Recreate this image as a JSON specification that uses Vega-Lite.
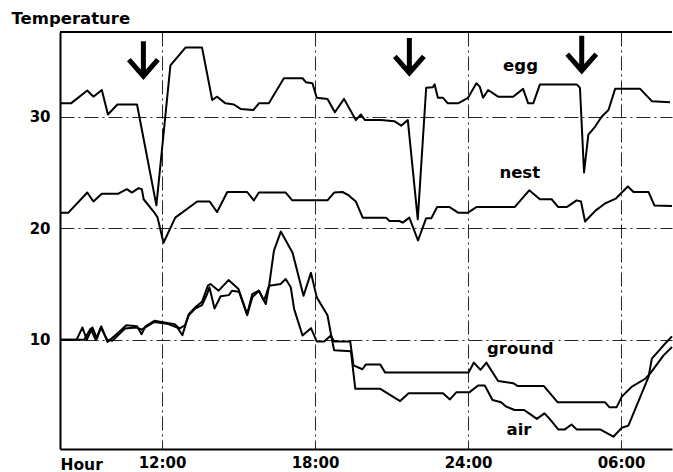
{
  "$schema": "https://vega.github.io/schema/vega-lite/v6.json",
  "width": 612,
  "height": 417,
  "autosize": "none",
  "padding": {"left": 60, "top": 32, "right": 1, "bottom": 23},
  "background": "white",
  "config": {"view": {"stroke": null}, "font": "DejaVu Sans"},
  "datasets": {
    "temps": [
      {"s":"egg","h":8.00,"t":31.2},{"s":"egg","h":8.43,"t":31.2},{"s":"egg","h":9.07,"t":32.35},{"s":"egg","h":9.31,"t":31.8},{"s":"egg","h":9.64,"t":32.4},{"s":"egg","h":9.88,"t":30.2},{"s":"egg","h":10.25,"t":31.1},{"s":"egg","h":11.02,"t":31.1},{"s":"egg","h":11.78,"t":22.05},{"s":"egg","h":12.33,"t":34.6},{"s":"egg","h":12.92,"t":36.2},{"s":"egg","h":13.57,"t":36.2},{"s":"egg","h":13.97,"t":31.5},{"s":"egg","h":14.16,"t":31.8},{"s":"egg","h":14.49,"t":31.2},{"s":"egg","h":14.82,"t":31.1},{"s":"egg","h":15.08,"t":30.7},{"s":"egg","h":15.58,"t":30.6},{"s":"egg","h":15.80,"t":31.2},{"s":"egg","h":16.19,"t":31.2},{"s":"egg","h":16.78,"t":33.45},{"s":"egg","h":17.51,"t":33.45},{"s":"egg","h":17.64,"t":33.1},{"s":"egg","h":17.90,"t":33.0},{"s":"egg","h":18.07,"t":31.7},{"s":"egg","h":18.49,"t":31.6},{"s":"egg","h":18.78,"t":30.4},{"s":"egg","h":19.14,"t":31.6},{"s":"egg","h":19.60,"t":29.7},{"s":"egg","h":19.80,"t":30.2},{"s":"egg","h":19.96,"t":29.7},{"s":"egg","h":20.59,"t":29.7},{"s":"egg","h":21.11,"t":29.6},{"s":"egg","h":21.38,"t":29.2},{"s":"egg","h":21.64,"t":29.7},{"s":"egg","h":22.03,"t":20.8},{"s":"egg","h":22.36,"t":32.6},{"s":"egg","h":22.62,"t":32.65},{"s":"egg","h":22.69,"t":32.9},{"s":"egg","h":22.82,"t":31.7},{"s":"egg","h":23.02,"t":31.7},{"s":"egg","h":23.21,"t":31.2},{"s":"egg","h":23.61,"t":31.2},{"s":"egg","h":24.00,"t":31.7},{"s":"egg","h":24.33,"t":33.0},{"s":"egg","h":24.46,"t":32.7},{"s":"egg","h":24.59,"t":31.7},{"s":"egg","h":24.79,"t":32.4},{"s":"egg","h":25.18,"t":31.8},{"s":"egg","h":25.77,"t":31.8},{"s":"egg","h":26.16,"t":32.5},{"s":"egg","h":26.36,"t":31.2},{"s":"egg","h":26.56,"t":31.2},{"s":"egg","h":26.82,"t":32.9},{"s":"egg","h":28.26,"t":32.9},{"s":"egg","h":28.39,"t":32.6},{"s":"egg","h":28.55,"t":25.0},{"s":"egg","h":28.72,"t":28.4},{"s":"egg","h":28.98,"t":29.1},{"s":"egg","h":29.24,"t":30.0},{"s":"egg","h":29.51,"t":30.6},{"s":"egg","h":29.77,"t":32.5},{"s":"egg","h":30.75,"t":32.5},{"s":"egg","h":31.21,"t":31.4},{"s":"egg","h":31.92,"t":31.3},
      {"s":"nest","h":8.00,"t":21.4},{"s":"nest","h":8.33,"t":21.4},{"s":"nest","h":9.07,"t":23.2},{"s":"nest","h":9.31,"t":22.4},{"s":"nest","h":9.64,"t":23.1},{"s":"nest","h":10.29,"t":23.1},{"s":"nest","h":10.62,"t":23.5},{"s":"nest","h":10.82,"t":23.2},{"s":"nest","h":11.08,"t":23.6},{"s":"nest","h":11.21,"t":23.5},{"s":"nest","h":11.28,"t":22.6},{"s":"nest","h":11.67,"t":21.5},{"s":"nest","h":11.82,"t":21.0},{"s":"nest","h":12.06,"t":18.7},{"s":"nest","h":12.52,"t":20.95},{"s":"nest","h":13.38,"t":22.4},{"s":"nest","h":13.87,"t":22.4},{"s":"nest","h":14.16,"t":21.45},{"s":"nest","h":14.56,"t":23.25},{"s":"nest","h":15.34,"t":23.25},{"s":"nest","h":15.60,"t":22.5},{"s":"nest","h":15.80,"t":23.2},{"s":"nest","h":16.85,"t":23.2},{"s":"nest","h":17.11,"t":22.5},{"s":"nest","h":18.49,"t":22.5},{"s":"nest","h":18.75,"t":23.2},{"s":"nest","h":19.08,"t":23.25},{"s":"nest","h":19.29,"t":23.0},{"s":"nest","h":19.60,"t":22.4},{"s":"nest","h":19.87,"t":20.95},{"s":"nest","h":20.79,"t":20.95},{"s":"nest","h":20.92,"t":20.65},{"s":"nest","h":21.31,"t":20.65},{"s":"nest","h":21.44,"t":20.5},{"s":"nest","h":21.70,"t":20.95},{"s":"nest","h":22.04,"t":18.9},{"s":"nest","h":22.36,"t":20.9},{"s":"nest","h":22.56,"t":20.9},{"s":"nest","h":22.79,"t":21.9},{"s":"nest","h":23.28,"t":21.9},{"s":"nest","h":23.61,"t":21.4},{"s":"nest","h":24.00,"t":21.4},{"s":"nest","h":24.33,"t":21.9},{"s":"nest","h":25.83,"t":21.9},{"s":"nest","h":26.40,"t":23.4},{"s":"nest","h":26.82,"t":22.6},{"s":"nest","h":27.28,"t":22.6},{"s":"nest","h":27.54,"t":21.9},{"s":"nest","h":27.87,"t":21.9},{"s":"nest","h":28.26,"t":22.5},{"s":"nest","h":28.43,"t":22.4},{"s":"nest","h":28.59,"t":20.6},{"s":"nest","h":29.01,"t":21.6},{"s":"nest","h":29.36,"t":22.2},{"s":"nest","h":29.79,"t":22.65},{"s":"nest","h":30.27,"t":23.75},{"s":"nest","h":30.49,"t":23.25},{"s":"nest","h":31.08,"t":23.25},{"s":"nest","h":31.31,"t":22.05},{"s":"nest","h":32.00,"t":22.0},
      {"s":"ground","h":8.00,"t":10.0},{"s":"ground","h":8.95,"t":10.0},{"s":"ground","h":9.20,"t":11.0},{"s":"ground","h":9.40,"t":10.0},{"s":"ground","h":9.60,"t":11.1},{"s":"ground","h":9.85,"t":10.0},{"s":"ground","h":10.05,"t":9.9},{"s":"ground","h":10.55,"t":11.0},{"s":"ground","h":11.00,"t":11.1},{"s":"ground","h":11.20,"t":10.9},{"s":"ground","h":11.70,"t":11.6},{"s":"ground","h":12.25,"t":11.4},{"s":"ground","h":12.60,"t":11.1},{"s":"ground","h":12.80,"t":10.4},{"s":"ground","h":13.05,"t":12.3},{"s":"ground","h":13.30,"t":12.9},{"s":"ground","h":13.57,"t":13.4},{"s":"ground","h":13.80,"t":14.85},{"s":"ground","h":13.90,"t":15.0},{"s":"ground","h":14.22,"t":14.4},{"s":"ground","h":14.61,"t":15.35},{"s":"ground","h":15.00,"t":14.55},{"s":"ground","h":15.34,"t":12.3},{"s":"ground","h":15.54,"t":14.1},{"s":"ground","h":15.80,"t":14.4},{"s":"ground","h":16.00,"t":13.5},{"s":"ground","h":16.20,"t":14.85},{"s":"ground","h":16.39,"t":14.9},{"s":"ground","h":16.65,"t":15.0},{"s":"ground","h":16.85,"t":15.45},{"s":"ground","h":17.05,"t":14.7},{"s":"ground","h":17.18,"t":12.77},{"s":"ground","h":17.51,"t":10.38},{"s":"ground","h":17.84,"t":11.04},{"s":"ground","h":18.07,"t":9.85},{"s":"ground","h":18.36,"t":9.85},{"s":"ground","h":18.62,"t":10.38},{"s":"ground","h":18.75,"t":9.85},{"s":"ground","h":19.38,"t":9.85},{"s":"ground","h":19.51,"t":7.7},{"s":"ground","h":19.86,"t":7.35},{"s":"ground","h":19.99,"t":7.77},{"s":"ground","h":20.56,"t":7.77},{"s":"ground","h":20.75,"t":7.05},{"s":"ground","h":24.02,"t":7.05},{"s":"ground","h":24.23,"t":7.95},{"s":"ground","h":24.49,"t":7.3},{"s":"ground","h":24.72,"t":7.95},{"s":"ground","h":25.18,"t":6.3},{"s":"ground","h":25.77,"t":6.1},{"s":"ground","h":25.94,"t":5.86},{"s":"ground","h":26.97,"t":5.86},{"s":"ground","h":27.51,"t":4.4},{"s":"ground","h":29.37,"t":4.4},{"s":"ground","h":29.54,"t":3.95},{"s":"ground","h":29.83,"t":3.95},{"s":"ground","h":30.03,"t":4.9},{"s":"ground","h":30.43,"t":5.8},{"s":"ground","h":30.95,"t":6.5},{"s":"ground","h":31.14,"t":6.96},{"s":"ground","h":31.67,"t":8.6},{"s":"ground","h":32.00,"t":9.35},
      {"s":"air","h":8.00,"t":10.0},{"s":"air","h":8.65,"t":10.0},{"s":"air","h":8.88,"t":11.1},{"s":"air","h":9.05,"t":10.0},{"s":"air","h":9.27,"t":11.1},{"s":"air","h":9.45,"t":10.1},{"s":"air","h":9.62,"t":11.2},{"s":"air","h":9.86,"t":9.8},{"s":"air","h":10.12,"t":10.3},{"s":"air","h":10.60,"t":11.3},{"s":"air","h":11.02,"t":11.2},{"s":"air","h":11.20,"t":10.5},{"s":"air","h":11.35,"t":11.2},{"s":"air","h":11.70,"t":11.7},{"s":"air","h":12.50,"t":11.4},{"s":"air","h":12.68,"t":11.0},{"s":"air","h":12.90,"t":11.3},{"s":"air","h":13.05,"t":12.2},{"s":"air","h":13.30,"t":12.8},{"s":"air","h":13.57,"t":13.1},{"s":"air","h":13.77,"t":14.1},{"s":"air","h":13.86,"t":14.7},{"s":"air","h":14.06,"t":12.8},{"s":"air","h":14.30,"t":13.9},{"s":"air","h":14.62,"t":14.0},{"s":"air","h":14.75,"t":14.4},{"s":"air","h":15.02,"t":14.3},{"s":"air","h":15.34,"t":12.2},{"s":"air","h":15.54,"t":13.8},{"s":"air","h":15.80,"t":14.4},{"s":"air","h":16.07,"t":13.2},{"s":"air","h":16.20,"t":14.85},{"s":"air","h":16.39,"t":18.0},{"s":"air","h":16.66,"t":19.7},{"s":"air","h":17.12,"t":17.8},{"s":"air","h":17.55,"t":13.95},{"s":"air","h":17.84,"t":16.0},{"s":"air","h":18.07,"t":13.8},{"s":"air","h":18.49,"t":12.2},{"s":"air","h":18.65,"t":10.2},{"s":"air","h":18.75,"t":9.05},{"s":"air","h":19.41,"t":8.96},{"s":"air","h":19.58,"t":5.6},{"s":"air","h":20.56,"t":5.6},{"s":"air","h":21.34,"t":4.5},{"s":"air","h":21.67,"t":5.2},{"s":"air","h":23.02,"t":5.2},{"s":"air","h":23.29,"t":4.65},{"s":"air","h":23.55,"t":5.3},{"s":"air","h":24.06,"t":5.3},{"s":"air","h":24.40,"t":5.9},{"s":"air","h":24.66,"t":5.9},{"s":"air","h":24.96,"t":4.6},{"s":"air","h":25.30,"t":4.4},{"s":"air","h":25.50,"t":4.0},{"s":"air","h":25.83,"t":3.7},{"s":"air","h":26.20,"t":3.7},{"s":"air","h":26.45,"t":3.3},{"s":"air","h":26.70,"t":2.9},{"s":"air","h":27.00,"t":3.4},{"s":"air","h":27.20,"t":2.9},{"s":"air","h":27.54,"t":1.96},{"s":"air","h":27.80,"t":1.96},{"s":"air","h":28.06,"t":2.4},{"s":"air","h":28.26,"t":1.96},{"s":"air","h":29.18,"t":1.96},{"s":"air","h":29.70,"t":1.3},{"s":"air","h":30.03,"t":2.1},{"s":"air","h":30.29,"t":2.3},{"s":"air","h":31.08,"t":6.67},{"s":"air","h":31.21,"t":8.3},{"s":"air","h":31.67,"t":9.5},{"s":"air","h":32.00,"t":10.3}
    ],
    "arrows": [
      {"h": 11.27, "t": 35.2},
      {"h": 21.70, "t": 35.5},
      {"h": 28.46, "t": 35.7}
    ],
    "labels": [
      {"h": 26.06, "t": 34.55, "label": "egg"},
      {"h": 26.03, "t": 24.97, "label": "nest"},
      {"h": 26.05, "t": 9.2, "label": "ground"},
      {"h": 26.0, "t": 1.9, "label": "air"}
    ]
  },
  "layer": [
    {
      "data": {"name": "temps"},
      "mark": {"type": "line", "color": "black", "strokeWidth": 2, "strokeJoin": "round"},
      "encoding": {
        "x": {
          "field": "h", "type": "quantitative",
          "scale": {"domain": [8, 32], "nice": false, "zero": false},
          "axis": {
            "values": [12, 18, 24, 30],
            "labelExpr": "datum.value == 30 ? '06:00' : datum.value + ':00'",
            "title": "Hour",
            "titleAnchor": "start", "titleAlign": "left", "titleX": 0, "titleY": 20, "titleBaseline": "alphabetic",
            "titleFont": "DejaVu Sans", "titleFontWeight": "bold", "titleFontSize": 15.5, "titleColor": "black",
            "labelFont": "DejaVu Sans", "labelFontWeight": "bold", "labelFontSize": 15, "labelColor": "black",
            "labelPadding": 6, "labelFlush": false, "labelOverlap": false,
            "ticks": false,
            "domainColor": "black", "domainWidth": 2,
            "grid": true, "gridColor": "black", "gridDash": [14, 4, 2, 4], "gridWidth": 1, "gridOpacity": 0.85
          }
        },
        "y": {
          "field": "t", "type": "quantitative",
          "scale": {"domain": [0.2, 37.6], "nice": false, "zero": false},
          "axis": {
            "values": [10, 20, 30],
            "title": "Temperature",
            "titleAngle": 0, "titleX": -49, "titleY": -9, "titleAlign": "left", "titleBaseline": "alphabetic",
            "titleFont": "DejaVu Sans", "titleFontWeight": "bold", "titleFontSize": 16.5, "titleColor": "black",
            "labelFont": "DejaVu Sans", "labelFontWeight": "bold", "labelFontSize": 15, "labelColor": "black",
            "labelPadding": 10,
            "ticks": false,
            "domainColor": "black", "domainWidth": 2,
            "grid": true, "gridColor": "black", "gridDash": [14, 4, 2, 4], "gridWidth": 1, "gridOpacity": 0.85
          }
        },
        "detail": {"field": "s"}
      }
    },
    {
      "data": {"values": [{"top": 37.6}]},
      "mark": {"type": "rule", "color": "black", "strokeWidth": 2},
      "encoding": {"y": {"field": "top", "type": "quantitative"}}
    },
    {
      "data": {"name": "arrows"},
      "mark": {"type": "point", "shape": "M0,-1L0,0.9M-0.83,0.05L0,1L0.83,0.05", "size": 1225, "filled": false, "stroke": "black", "strokeWidth": 5, "opacity": 1},
      "encoding": {
        "x": {"field": "h", "type": "quantitative"},
        "y": {"field": "t", "type": "quantitative"}
      }
    },
    {
      "data": {"name": "labels"},
      "mark": {"type": "text", "font": "DejaVu Sans", "fontWeight": "bold", "fontSize": 16.5, "color": "black", "align": "center", "baseline": "middle"},
      "encoding": {
        "x": {"field": "h", "type": "quantitative"},
        "y": {"field": "t", "type": "quantitative"},
        "text": {"field": "label"}
      }
    }
  ]
}
